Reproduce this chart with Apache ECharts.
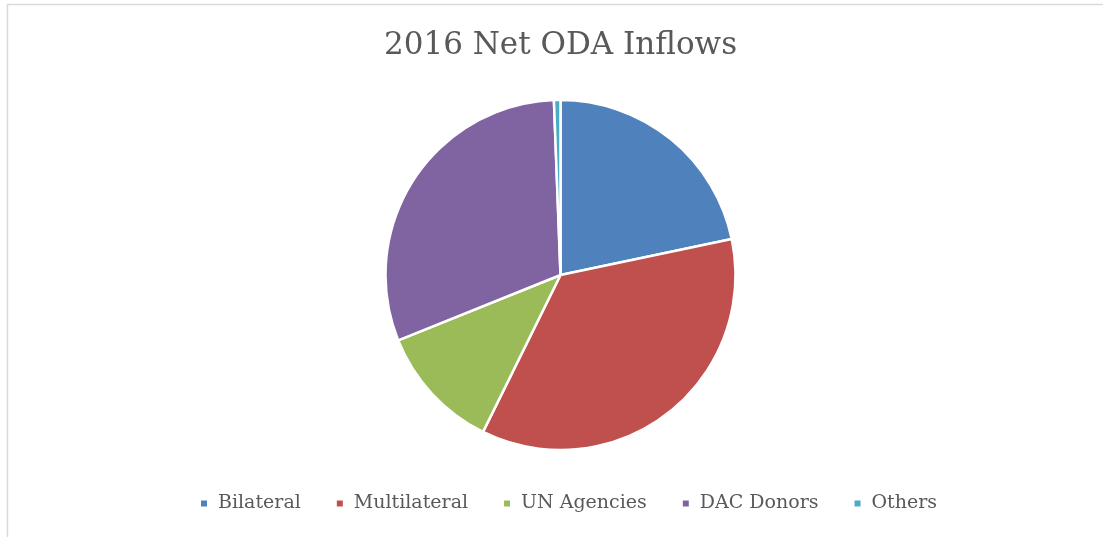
<!DOCTYPE html>
<html>
<head>
<meta charset="utf-8">
<script src="https://cdn.jsdelivr.net/npm/echarts@6/dist/echarts.min.js"></script>
<style>
html,body{margin:0;padding:0;background:#fff;}
#chart{width:1103px;height:537px;}
</style>
</head>
<body>
<div id="chart"></div>
<script>
const titleText = '2016 Net ODA Inflows';
const categories = ['Bilateral', 'Multilateral', 'UN Agencies', 'DAC Donors', 'Others'];
const values = [21.7, 35.6, 11.6, 30.5, 0.6];
const colors = ['#4F81BD', '#C0504D', '#9BBB59', '#8064A2', '#4BACC6'];

const chart = echarts.init(document.getElementById('chart'));
chart.setOption({
  backgroundColor: '#ffffff',
  animation: false,
  color: colors,
  graphic: [{
    type: 'rect',
    shape: {x: 7.5, y: 4.5, width: 1200, height: 700},
    style: {fill: 'none', stroke: '#d9d9d9', lineWidth: 1.5},
    silent: true
  }],
  title: {
    text: titleText,
    left: 384,
    top: 30,
    padding: 0,
    textStyle: {fontFamily: 'DejaVu Serif', fontSize: 31, fontWeight: 'normal', color: '#595959'}
  },
  legend: {
    data: categories,
    left: 199,
    top: 494,
    padding: 0,
    icon: 'rect',
    itemWidth: 8,
    itemHeight: 8,
    itemGap: 34,
    textStyle: {fontFamily: 'DejaVu Serif', fontSize: 19, color: '#595959', padding: [0, 0, 0, 5]}
  },
  series: [{
    type: 'pie',
    center: [560.5, 275],
    radius: 175,
    startAngle: 90,
    clockwise: true,
    label: {show: false},
    labelLine: {show: false},
    itemStyle: {borderColor: '#ffffff', borderWidth: 2.5},
    data: categories.map((c, i) => ({name: c, value: values[i]}))
  }]
});
</script>
</body>
</html>
